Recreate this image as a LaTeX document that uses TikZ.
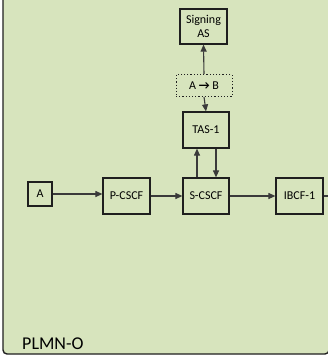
\documentclass[tikz,border=0pt]{standalone}
\usepackage{fontspec}
\setmainfont{Carlito}
\usetikzlibrary{arrows.meta}
\definecolor{plmngreen}{HTML}{D7E4BD}
\definecolor{edgecol}{HTML}{1F1F1F}
\definecolor{linecol}{HTML}{3A3A3A}
\begin{document}
\begin{tikzpicture}[x=1pt,y=-1pt,
  nodebox/.style={draw=edgecol,line width=1.2pt,fill=plmngreen,inner sep=0pt,align=center,font=\fontsize{12}{14}\selectfont},
  conn/.style={draw=linecol,line width=1.1pt,-{Triangle[length=7pt,width=6pt]}},
  plain/.style={draw=linecol,line width=1.1pt}]
\useasboundingbox (0,0) rectangle (328,361);
\fill[white] (0,0) rectangle (328,361);
\begin{scope}
\clip (0,0) rectangle (328,361);
\draw[fill=plmngreen,draw=edgecol,line width=1.4pt,rounded corners=4pt] (3,-20) rectangle (329,354);
\end{scope}
\node[nodebox,minimum width=47pt,minimum height=35pt] (sas) at (203.5,26.5) {Signing\\AS};
\node[nodebox,draw=edgecol,dotted,line width=1pt,minimum width=56pt,minimum height=22pt] (ab) at (204,85.5) {A {\bfseries →} B};
\node[nodebox,minimum width=46pt,minimum height=36pt] (tas) at (206,130) {TAS-1};
\node[nodebox,minimum width=46pt,minimum height=36pt] (scscf) at (206,196) {S-CSCF};
\node[nodebox,minimum width=47pt,minimum height=36pt] (pcscf) at (126.5,196) {P-CSCF};
\node[nodebox,minimum width=24pt,minimum height=24pt] (a) at (40,194) {A};
\node[nodebox,minimum width=47pt,minimum height=36pt] (ibcf) at (299.5,196) {IBCF-1};
\node[anchor=base west,inner sep=0pt,font=\fontsize{18}{20}\selectfont] (plmn) at (22,349.5) {PLMN-O};
\coordinate (out) at (335,196);
\draw[conn] (ab.north) -- (sas.south);
\draw[conn] (ab.south) -- (tas.north);
\draw[conn] ([xshift=-9pt]scscf.north) -- ([xshift=-9pt]tas.south);
\draw[conn] ([xshift=10pt]tas.south) -- ([xshift=10pt]scscf.north);
\draw[conn] (a.east) -- (pcscf.west |- a.east);
\draw[conn] (pcscf.east) -- (scscf.west);
\draw[conn] (scscf.east) -- (ibcf.west);
\draw[plain] (ibcf.east) -- (out);
\end{tikzpicture}
\end{document}
